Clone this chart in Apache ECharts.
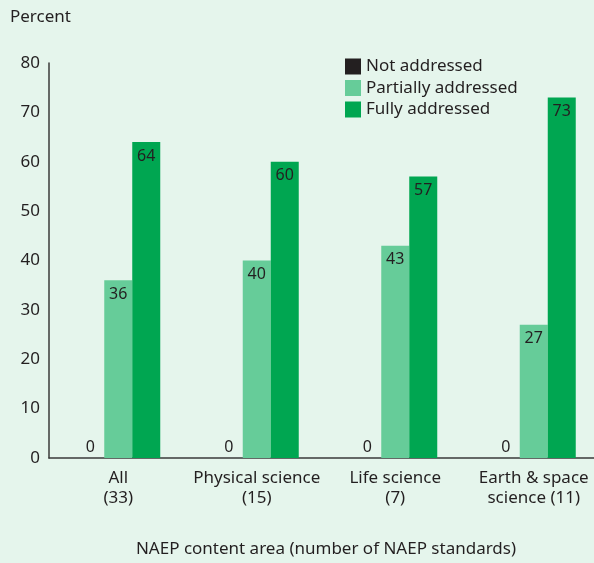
<!DOCTYPE html>
<html><head><meta charset="utf-8">
<script src="https://cdn.jsdelivr.net/npm/echarts@6/dist/echarts.min.js"></script>
<style>html,body{margin:0;padding:0;background:#e5f5ec}#c{width:594px;height:563px}</style>
</head><body><div id="c"></div>
<script>
const categories = ['All\n(33)', 'Physical science\n(15)', 'Life science\n(7)', 'Earth & space\nscience (11)'];
const notAddressed = [0, 0, 0, 0];
const partiallyAddressed = [36, 40, 43, 27];
const fullyAddressed = [64, 60, 57, 73];
const seriesNames = ['Not addressed', 'Partially addressed', 'Fully addressed'];
const yTicks = [0, 10, 20, 30, 40, 50, 60, 70, 80];

const FONT = 'Noto Sans';
const TXT = '#231f20';
const chart = echarts.init(document.getElementById('c'), null, {renderer: 'canvas'});
const colors = ['#231f20', '#66cc99', '#00a651'];
const mk = (name, data, i) => ({
  name, type: 'bar', data, barWidth: 28, barGap: '0%',
  itemStyle: {color: colors[i]},
  label: {
    show: true,
    position: i === 0 ? 'top' : 'insideTop',
    distance: i === 0 ? 3 : 6,
    color: TXT, fontFamily: FONT, fontSize: 16
  }
});
chart.setOption({
  backgroundColor: '#e5f5ec',
  animation: false,
  textStyle: {fontFamily: FONT, color: TXT},
  legend: {
    orient: 'vertical', left: 345, top: 58, padding: 0,
    itemWidth: 16, itemHeight: 16, itemGap: 4.5,
    icon: 'rect',
    textStyle: {fontFamily: FONT, fontSize: 17, color: TXT},
    data: seriesNames
  },
  graphic: [{
    type: 'text', left: 10, top: 9,
    style: {text: 'Percent', font: '17px "Noto Sans"', fill: TXT}
  }],
  grid: {left: 49, top: 63, width: 554, bottom: 105, containLabel: false, outerBoundsMode: 'none'},
  xAxis: {
    type: 'category', data: categories,
    axisLine: {lineStyle: {color: '#3a3a3a', width: 1.5}},
    axisTick: {show: false},
    axisLabel: {color: TXT, fontFamily: FONT, fontSize: 17, lineHeight: 20, margin: 10, interval: 0},
    name: 'NAEP content area (number of NAEP standards)',
    nameLocation: 'middle', nameGap: 83,
    nameTextStyle: {color: TXT, fontFamily: FONT, fontSize: 17}
  },
  yAxis: {
    type: 'value', min: yTicks[0], max: yTicks[yTicks.length - 1], interval: 10,
    axisLine: {show: true, lineStyle: {color: '#3a3a3a', width: 1.5}},
    axisTick: {show: false},
    splitLine: {show: false},
    axisLabel: {color: TXT, fontFamily: FONT, fontSize: 17, margin: 9}
  },
  series: [
    mk(seriesNames[0], notAddressed, 0),
    mk(seriesNames[1], partiallyAddressed, 1),
    mk(seriesNames[2], fullyAddressed, 2)
  ]
});
</script></body></html>
